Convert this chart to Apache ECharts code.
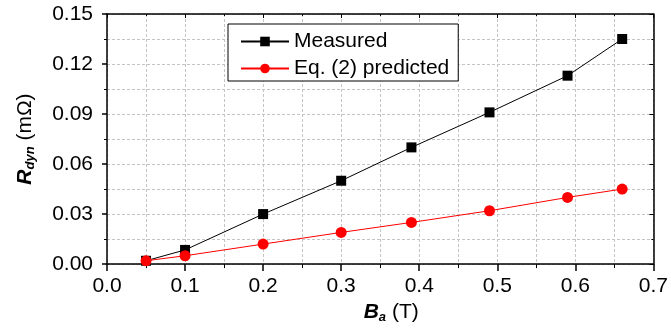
<!DOCTYPE html>
<html>
<head>
<meta charset="utf-8">
<script src="https://cdn.jsdelivr.net/npm/echarts@6/dist/echarts.min.js"></script>
<style>
html,body{margin:0;padding:0;background:#fff;}
#chart{width:671px;height:329px;}
</style>
</head>
<body>
<div id="chart"></div>
<script>
var fieldB = [0.05, 0.10, 0.20, 0.30, 0.39, 0.49, 0.59, 0.66];
var measured = [0.002, 0.0085, 0.030, 0.050, 0.070, 0.091, 0.113, 0.135];
var predicted = [0.002, 0.005, 0.012, 0.019, 0.025, 0.032, 0.040, 0.045];
var seriesNames = ['Measured', 'Eq. (2) predicted'];

var FONT = 'Arial, "Liberation Sans", sans-serif';
var FS = 21;

function pairs(xs, ys) { return xs.map(function (x, i) { return [x, ys[i]]; }); }

var gridDash = { color: '#c4c4c4', width: 1, type: [3, 2] };

var chart = echarts.init(document.getElementById('chart'), null, { renderer: 'canvas' });
chart.setOption({
  backgroundColor: '#fff',
  animation: false,
  textStyle: { fontFamily: FONT },
  grid: { left: 107, right: 15, top: 14, bottom: 61, containLabel: false },
  legend: {
    orient: 'vertical',
    left: 228, top: 24,
    padding: [7, 9, 2, 12],
    borderColor: '#000', borderWidth: 1,
    backgroundColor: '#fff',
    itemWidth: 48, itemHeight: 12, itemGap: 6,
    textStyle: { fontSize: FS, color: '#000', fontFamily: FONT, lineHeight: 21 },
    data: seriesNames
  },
  xAxis: [{
    type: 'value', min: 0, max: 0.7, interval: 0.1,
    position: 'bottom',
    name: '{b|B}{s|a}{n| (T)}',
    nameLocation: 'middle', nameGap: 28,
    nameTextStyle: {
      padding: [0, 0, 0, 22],
      rich: {
        b: { fontSize: FS, fontWeight: 'bold', fontStyle: 'italic', color: '#000', fontFamily: FONT, verticalAlign: 'top', lineHeight: 22 },
        s: { fontSize: 13, fontWeight: 'bold', fontStyle: 'italic', color: '#000', fontFamily: FONT, verticalAlign: 'top', lineHeight: 22, padding: [9, 0, 0, 0] },
        n: { fontSize: FS, color: '#000', fontFamily: FONT, verticalAlign: 'top', lineHeight: 22 }
      }
    },
    axisLine: { onZero: false, lineStyle: { color: '#000', width: 1.5 } },
    axisTick: { show: true, inside: false, length: 7, lineStyle: { color: '#000', width: 1.5 } },
    minorTick: { show: true, splitNumber: 2, length: 4, lineStyle: { color: '#000', width: 1 } },
    axisLabel: { fontSize: FS, color: '#000', fontFamily: FONT, margin: 12, formatter: function (v) { return v.toFixed(1); } },
    splitLine: { show: true, lineStyle: gridDash },
    minorSplitLine: { show: true, lineStyle: gridDash }
  }, {
    type: 'value', min: 0, max: 0.7, interval: 0.1,
    position: 'top',
    axisLine: { onZero: false, lineStyle: { color: '#000', width: 1.5 } },
    axisTick: { show: true, inside: true, length: 4, lineStyle: { color: '#000', width: 1 } },
    minorTick: { show: true, splitNumber: 2, length: 2, lineStyle: { color: '#000', width: 1 } },
    axisLabel: { show: false },
    splitLine: { show: false }
  }],
  yAxis: [{
    type: 'value', min: 0, max: 0.15, interval: 0.03,
    position: 'left',
    name: '{b|R}{s|dyn}{n| (mΩ)}',
    nameLocation: 'middle', nameGap: 70,
    nameTextStyle: {
      rich: {
        b: { fontSize: FS, fontWeight: 'bold', fontStyle: 'italic', color: '#000', fontFamily: FONT, verticalAlign: 'top', lineHeight: 22 },
        s: { fontSize: 13, fontWeight: 'bold', fontStyle: 'italic', color: '#000', fontFamily: FONT, verticalAlign: 'top', lineHeight: 22, padding: [9, 0, 0, 0] },
        n: { fontSize: FS, color: '#000', fontFamily: FONT, verticalAlign: 'top', lineHeight: 22 }
      }
    },
    axisLine: { onZero: false, lineStyle: { color: '#000', width: 1.5 } },
    axisTick: { show: true, inside: false, length: 5, lineStyle: { color: '#000', width: 1.5 } },
    minorTick: { show: true, splitNumber: 2, length: 3, lineStyle: { color: '#000', width: 1 } },
    axisLabel: { fontSize: FS, color: '#000', fontFamily: FONT, margin: 14, formatter: function (v) { return v.toFixed(2); } },
    splitLine: { show: true, lineStyle: gridDash },
    minorSplitLine: { show: true, lineStyle: gridDash }
  }, {
    type: 'value', min: 0, max: 0.15, interval: 0.03,
    position: 'right',
    axisLine: { onZero: false, lineStyle: { color: '#000', width: 1.5 } },
    axisTick: { show: true, inside: true, length: 4, lineStyle: { color: '#000', width: 1 } },
    minorTick: { show: true, splitNumber: 2, length: 2, lineStyle: { color: '#000', width: 1 } },
    axisLabel: { show: false },
    splitLine: { show: false }
  }],
  series: [{
    name: seriesNames[0],
    type: 'line',
    data: pairs(fieldB, measured),
    symbol: 'rect', symbolSize: 10,
    lineStyle: { color: '#000', width: 1 },
    itemStyle: { color: '#000' },
    z: 3
  }, {
    name: seriesNames[1],
    type: 'line',
    data: pairs(fieldB, predicted),
    symbol: 'circle', symbolSize: 11,
    lineStyle: { color: '#ff0000', width: 1 },
    itemStyle: { color: '#ff0000' },
    z: 4
  }]
});
</script>
</body>
</html>
